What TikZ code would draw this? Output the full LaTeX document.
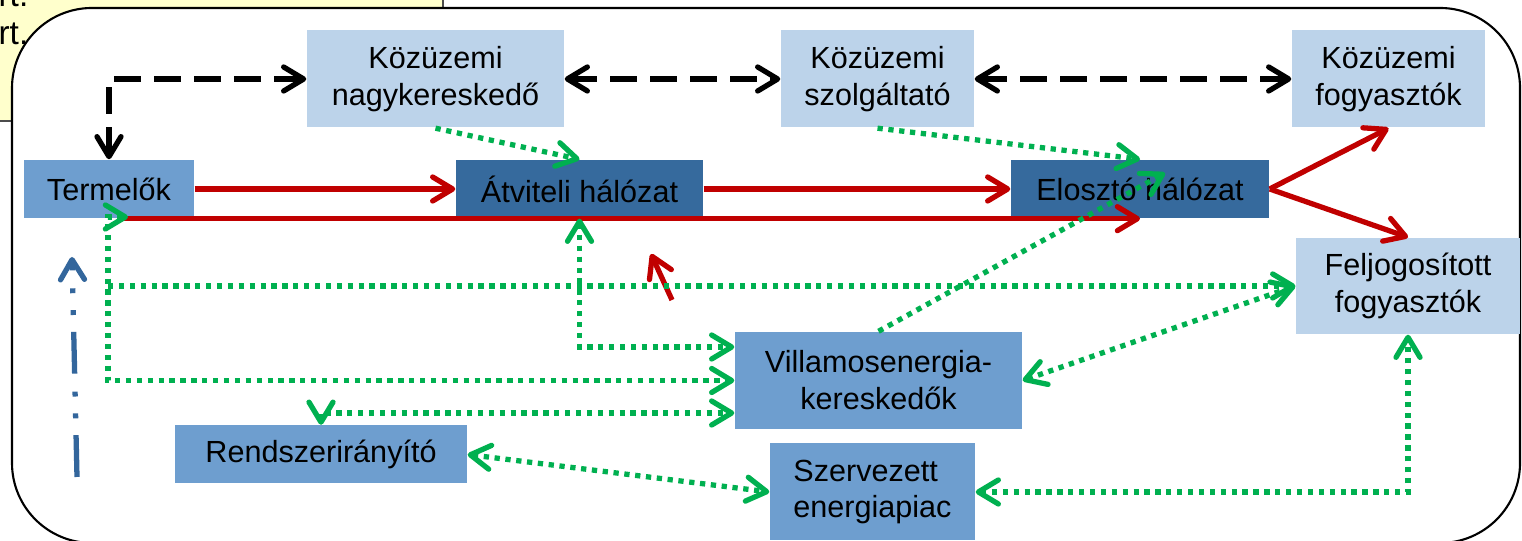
\documentclass[tikz,border=0pt]{standalone}
\usepackage{fontspec}
\setmainfont{Liberation Sans}
\usepackage{xcolor}
\usetikzlibrary{calc, arrows.meta}

\definecolor{lightblue}{HTML}{BCD3EA}
\definecolor{midblue}{HTML}{6E9ECF}
\definecolor{darkblue}{HTML}{366A9D}
\definecolor{powerred}{HTML}{C00000}
\definecolor{infogreen}{HTML}{00B050}
\definecolor{ctrlblue}{HTML}{33669C}
\definecolor{notebg}{HTML}{FFFFCC}

\tikzset{
  blok/.style={inner sep=0pt, align=center, minimum height=0.58cm,
    font=\fontsize{8.7}{10.5}\selectfont},
  lightbox/.style={blok, fill=lightblue, minimum height=0.97cm},
  midbox/.style={blok, fill=midblue},
  darkbox/.style={blok, fill=darkblue},
  contract/.style={black, line width=1.5pt, dash pattern=on 7.7pt off 3.7pt, <->},
  power/.style={powerred, line width=1.5pt, ->},
  info/.style={infogreen, line width=1.5pt, dash pattern=on 1.5pt off 1.6pt},
  ctrl/.style={ctrlblue, line width=1.5pt,
    dash pattern=on 11.9pt off 4.8pt on 1.4pt off 4.8pt on 1.4pt off 5.1pt, ->}
}

\begin{document}
\begin{tikzpicture}[scale=1, >={Straight Barb[length=2mm,width=2.4mm,round]}]
      \useasboundingbox (0,0) rectangle (15.22,5.41);

      % note behind the frame
      \draw[fill=notebg, draw=black!70, line width=0.5pt] (-0.3,4.20) rectangle (4.43,5.7);
      \node[anchor=base east, inner sep=0pt, font=\fontsize{9.5}{11}\selectfont] (zrt1) at (0.29,5.34) {Zrt.};
      \node[anchor=base east, inner sep=0pt, font=\fontsize{9.5}{11}\selectfont] (zrt2) at (0.29,4.96) {Zrt.};

      % frame
      \draw[fill=white, line width=0.6pt, rounded corners=0.8cm] (0.12,5.33) rectangle (15.20,-0.02);

      \node[lightbox, minimum width=2.57cm] (nagyker) at (4.355,4.62) {Közüzemi\\nagykereskedő};
      \node[lightbox, minimum width=1.93cm] (szolg) at (8.775,4.62) {Közüzemi\\szolgáltató};
      \node[lightbox, minimum width=1.93cm] (kozfogy) at (13.885,4.62) {Közüzemi\\fogyasztók};

      \node[midbox, minimum width=1.70cm] (termelo) at (1.09,3.52) {Termelők};
      \node[darkbox, minimum width=2.47cm] (atviteli) at (5.795,3.52) {Átviteli hálózat};
      \node[darkbox, minimum width=2.58cm] (eloszto) at (11.40,3.52) {Elosztó hálózat};

      \node[lightbox, minimum width=2.24cm, minimum height=0.96cm] (feljog) at (14.08,2.55) {Feljogosított\\fogyasztók};
      \node[midbox, minimum width=2.87cm, minimum height=0.97cm] (villamos) at (8.785,1.605) {Villamosenergia-\\kereskedők};
      \node[midbox, minimum width=2.92cm] (rendszer) at (3.21,0.865) {Rendszerirányító};
      \node[midbox, minimum width=2.05cm, minimum height=0.97cm, align=left] (szervezett) at (8.725,0.49) {Szervezett\\energiapiac};

      \coordinate (tv) at (1.28,3.24);
      \coordinate (tknee) at (1.08,2.55);
      \coordinate (eloin) at (11.65,3.68);
      \coordinate (redtail) at (6.72,2.41);
      \coordinate (redtip) at (6.51,2.87);
      \coordinate (bluetail) at (0.77,0.64);
      \coordinate (bluetip) at (0.72,2.84);

      % contracts
      \draw[contract] (termelo.north) |- (nagyker.west);
      \draw[contract] (nagyker.east) -- (szolg.west);
      \draw[contract] (szolg.east) -- (kozfogy.west);

      % energy flow
      \draw[power] (termelo.east) -- (atviteli.west);
      \draw[power] (atviteli.east) -- (eloszto.west);
      \draw[power] ([xshift=0.1cm]termelo.south) -- (eloszto.south);
      \draw[power] (eloszto.east) -- (kozfogy.south);
      \draw[power] (eloszto.east) -- (feljog.north);
      \draw[power] (redtail) -- (redtip);

      % information
      \draw[info, ->] (nagyker.south) -- (atviteli.north);
      \draw[info, ->] (szolg.south) -- (eloszto.north);
      \draw[info, ->] (villamos.north) -- (eloin);
      \draw[info, <->] (tv) -| (tknee) |- (villamos.west);
      \draw[info, ->] (tknee) -- (feljog.west);
      \draw[info, <->] (atviteli.south) |- ($(villamos.west)+(0,0.335)$);
      \draw[info, <->] (rendszer.north) |- ($(villamos.west)+(0,-0.325)$);
      \draw[info, <->] (rendszer.east) -- (szervezett.west);
      \draw[info, <->] (szervezett.east) -| (feljog.south);
      \draw[info, <->] (villamos.east) -- (feljog.west);

      \draw[ctrl] (bluetail) -- (bluetip);
\end{tikzpicture}
\end{document}
